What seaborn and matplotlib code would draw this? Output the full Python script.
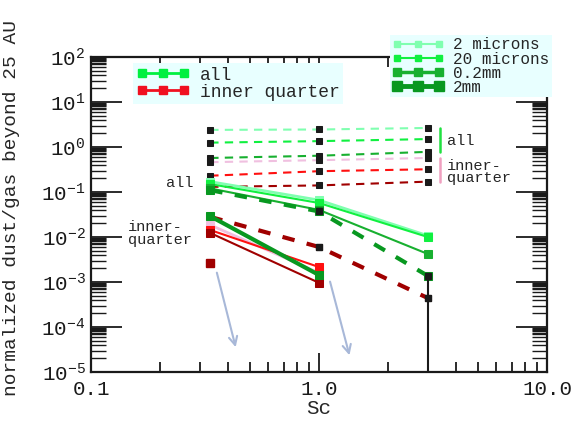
import numpy as np
import seaborn as sns
import matplotlib.pyplot as plt
from matplotlib.lines import Line2D
from matplotlib.ticker import LogLocator, NullFormatter

sns.set_theme(style='ticks')
plt.rcParams['font.family'] = ['Liberation Mono', 'DejaVu Sans']
plt.rcParams['mathtext.fontset'] = 'custom'
plt.rcParams['mathtext.rm'] = 'Liberation Mono'

# Sc values
sc = [1/3, 1.0, 3.0]
sc_two = [1/3, 1.0]

# dashed set, upper group (all: green, inner quarter: red shades)
dash_all_2um = [2.4, 2.45, 2.65]
dash_all_20um = [1.25, 1.35, 1.5]
dash_all_02mm = [0.57, 0.64, 0.78]
dash_in_2um = [0.46, 0.51, 0.57]
dash_in_20um = [0.23, 0.29, 0.32]
dash_in_02mm = [0.13, 0.14, 0.17]

# solid set, all
all_2um = [0.17, 0.066, 0.0107]
all_20um = [0.15, 0.057, 0.0100]
all_02mm = [0.12, 0.040, 0.0042]
all_2mm_dash = [0.11, 0.037, 0.00137]

# solid set, inner quarter (only first two Sc)
in_2mm = [0.029, 0.00143]
in_2um = [0.0185, 0.0016]
in_20um = [0.0143, 0.00215]
in_02mm = [0.0123, 0.00096]
in_2mm_dash = [0.028, 0.006, 0.00044]
in_lone_x = [1/3]
in_lone = [0.0027]

# drop to zero at Sc=3
drop_x = [3.0, 3.0]
drop_y = [0.00137, 1e-6]

# upper-limit arrows (start, end)
arrows = [((0.354, 1.85e-3), (0.434, 3.1e-5)),
          ((1.11, 1.17e-3), (1.37, 2.05e-5))]

y_ticks = [1e-5, 1e-4, 1e-3, 1e-2, 1e-1, 1e0, 1e1, 1e2]

C_LG = '#80ffb0'
C_BG = '#10f040'
C_MG = '#18b030'
C_DG = '#089820'
C_PK = '#f0c0e0'
C_RD = '#ff1010'
C_DR = '#a00000'

fig = plt.figure(figsize=(5.76, 4.21), dpi=100)
ax = fig.add_axes([91/576, 1 - 372/421, 456/576, 315/421])
ax.set_xscale('log')
ax.set_yscale('log')

dash = (0, (4, 3))
black_m = dict(marker='s', markersize=4.5, markerfacecolor='k', markeredgecolor='k')

for vals, col in [(dash_all_2um, C_LG), (dash_all_20um, C_BG), (dash_all_02mm, C_MG),
                  (dash_in_2um, C_PK), (dash_in_20um, C_RD), (dash_in_02mm, C_DR)]:
    sns.lineplot(x=sc, y=vals, ax=ax, color=col, linewidth=1.5, linestyle=dash, **black_m)

for vals, col, lw in [(all_2um, C_LG, 2.0), (all_20um, C_BG, 1.5), (all_02mm, C_MG, 1.5)]:
    sns.lineplot(x=sc, y=vals, ax=ax, color=col, linewidth=lw, marker='s',
                 markersize=6, markeredgecolor=col)

sns.lineplot(x=sc, y=all_2mm_dash, ax=ax, color=C_DG, linewidth=3, linestyle=(0, (3, 3)),
             marker='s', markersize=6, markeredgecolor=C_DG)
sns.lineplot(x=sc, y=in_2mm_dash, ax=ax, color=C_DR, linewidth=3, linestyle=(0, (3, 3)),
             marker='s', markersize=5, markeredgecolor=C_DR)

for vals, col, lw in [(in_2um, C_PK, 2.0), (in_20um, C_RD, 1.5), (in_02mm, C_DR, 1.5),
                      (in_2mm, C_DG, 3.0)]:
    sns.lineplot(x=sc_two, y=vals, ax=ax, color=col, linewidth=lw, marker='s',
                 markersize=6, markeredgecolor=col)

ax.plot(in_lone_x, in_lone, 's', color=C_DR, markersize=6)
ax.plot(sc[1:], all_2mm_dash[1:], 's', color='k', markersize=5)
ax.plot(sc[1:], in_2mm_dash[1:], 's', color='k', markersize=4.5)
ax.plot(drop_x, drop_y, color='k', linewidth=1.5)

for (x0, y0), (x1, y1) in arrows:
    ax.annotate('', xy=(x1, y1), xytext=(x0, y0),
                arrowprops=dict(arrowstyle='->', color='#a8b8d8', lw=1.5,
                                mutation_scale=15))

# group labels
ax.text(0.28, 0.158, 'all', ha='right', va='center', fontsize=11)
ax.text(0.1456, 0.0117, 'inner-\nquarter', ha='left', va='center', fontsize=11,
        linespacing=0.9)
ax.plot([3.39, 3.39], [2.64, 0.774], color='#20e040', linewidth=1.8)
ax.plot([3.39, 3.39], [0.57, 0.167], color='#f0a0c0', linewidth=1.8)
ax.text(3.63, 1.36, 'all', ha='left', va='center', fontsize=11)
ax.text(3.63, 0.278, 'inner-\nquarter', ha='left', va='center', fontsize=11,
        linespacing=0.9)

ax.set_xlim(0.1, 10)
ax.set_ylim(1e-5, 1e2)
ax.set_xticks([0.1, 1.0, 10.0], labels=['0.1', '1.0', '10.0'])
ax.xaxis.set_minor_formatter(NullFormatter())
ax.set_yticks(y_ticks)
ax.yaxis.set_minor_locator(LogLocator(base=10, subs=[2, 3, 4, 5, 6, 7, 7.5, 8, 8.5, 9, 9.5],
                                      numticks=200))
ax.yaxis.set_minor_formatter(NullFormatter())
ax.set_ylim(1e-5, 1e2)
ax.tick_params(axis='both', which='both', direction='in', top=True, right=True,
               colors='k', labelsize=15)
ax.tick_params(axis='x', which='major', length=14, width=1.3, pad=6)
ax.tick_params(axis='x', which='minor', length=7, width=1.3)
ax.tick_params(axis='y', which='major', length=22, width=1.3, pad=4)
ax.tick_params(axis='y', which='minor', length=11, width=1.0)
for s in ax.spines.values():
    s.set_linewidth(1.6)
    s.set_color('k')

ax.set_xlabel('Sc', fontsize=15, labelpad=0)
ax.set_ylabel('normalized dust/gas beyond 25 AU', fontsize=14)
ax.yaxis.set_label_coords(-0.155, 0.52)

# legends
h1 = [Line2D([], [], color='#00f040', linewidth=2, marker='s', markersize=6),
      Line2D([], [], color='#f01020', linewidth=2, marker='s', markersize=6)]
leg1 = ax.legend(h1, ['all', 'inner quarter'], loc='upper left',
                 bbox_to_anchor=(133/576, 1 - 63/421), bbox_transform=fig.transFigure,
                 numpoints=3, fontsize=13, handlelength=2.9, handletextpad=0.6,
                 labelspacing=0.0, borderpad=0.2, borderaxespad=0, frameon=True,
                 fancybox=False, facecolor='#e8ffff', edgecolor='none', framealpha=1)
ax.add_artist(leg1)

h2 = [Line2D([], [], color=C_LG, linewidth=1.5, marker='s', markersize=5),
      Line2D([], [], color=C_BG, linewidth=1.5, marker='s', markersize=5),
      Line2D([], [], color=C_MG, linewidth=2.5, marker='s', markersize=6),
      Line2D([], [], color=C_DG, linewidth=3.5, marker='s', markersize=7)]
fig.legend(h2, ['2 microns', '20 microns', '0.2mm', '2mm'], loc='upper left',
           bbox_to_anchor=(390/576, 1 - 35/421), numpoints=3, fontsize=11.5,
           handlelength=3.2, handletextpad=0.6, labelspacing=-0.05, borderpad=0.15,
           borderaxespad=0, frameon=True, fancybox=False, facecolor='#e8ffff',
           edgecolor='none', framealpha=1)

fig.savefig('out.png', dpi=100)
